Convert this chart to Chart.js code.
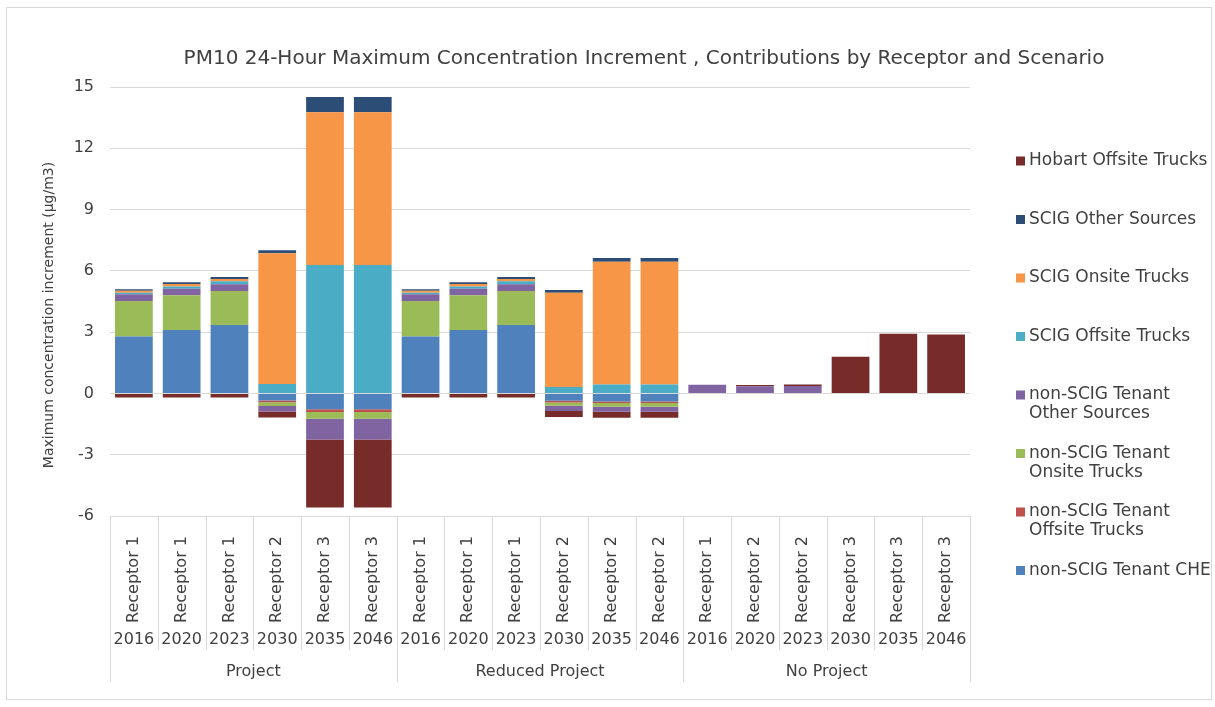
<!DOCTYPE html>
<html>
<head>
<meta charset="utf-8">
<title>PM10 24-Hour Maximum Concentration Increment</title>
<script src="https://cdn.jsdelivr.net/npm/chart.js@4.4.1/dist/chart.umd.min.js"></script>
<style>
    html, body { margin: 0; padding: 0; background: #ffffff; }
    #wrap { position: relative; width: 1215px; height: 707px; }
</style>
</head>
<body>
<div id="wrap"><canvas id="chart"></canvas></div>
<script>
// chart text
var chartTitle = 'PM10 24-Hour Maximum Concentration Increment , Contributions by Receptor and Scenario';
var yTitle = 'Maximum concentration increment (µg/m3)';

// categories (three levels)
var receptors = ['Receptor 1', 'Receptor 1', 'Receptor 1', 'Receptor 2', 'Receptor 3', 'Receptor 3',
                 'Receptor 1', 'Receptor 1', 'Receptor 1', 'Receptor 2', 'Receptor 2', 'Receptor 2',
                 'Receptor 1', 'Receptor 2', 'Receptor 2', 'Receptor 3', 'Receptor 3', 'Receptor 3'];
var years = ['2016', '2020', '2023', '2030', '2035', '2046',
             '2016', '2020', '2023', '2030', '2035', '2046',
             '2016', '2020', '2023', '2030', '2035', '2046'];
var scenarios = ['Project', 'Reduced Project', 'No Project'];
var yearsPerScenario = 6;

// y axis ticks
var yMin = -6, yMax = 15, yStep = 3;

// series values (µg/m3), in stacking order
var tenantChe     = [2.79, 3.10, 3.35, -0.35, -0.78, -0.78, 2.79, 3.10, 3.35, -0.36, -0.39, -0.39, 0, 0, 0, 0, 0, 0];
var tenantOffsite = [0, 0, 0, -0.08, -0.13, -0.13, 0, 0, 0, -0.08, -0.08, -0.08, -0.03, 0, 0, 0, 0, 0];
var tenantOnsite  = [1.73, 1.70, 1.66, -0.19, -0.33, -0.33, 1.73, 1.70, 1.66, -0.16, -0.18, -0.18, 0, 0, 0, 0, -0.03, -0.03];
var tenantOther   = [0.33, 0.33, 0.33, -0.26, -1.01, -1.01, 0.33, 0.33, 0.33, -0.26, -0.25, -0.25, 0.42, 0.35, 0.36, 0, 0, 0];
var scigOffsite   = [0.08, 0.10, 0.15, 0.46, 6.29, 6.29, 0.08, 0.10, 0.15, 0.31, 0.44, 0.44, 0, 0, 0, 0, 0, 0];
var scigOnsite    = [0.10, 0.13, 0.11, 6.40, 7.48, 7.48, 0.10, 0.13, 0.11, 4.62, 6.01, 6.01, 0, 0, 0, 0, 0, 0];
var scigOther     = [0.07, 0.08, 0.10, 0.15, 0.74, 0.74, 0.07, 0.08, 0.10, 0.13, 0.18, 0.18, 0, 0, 0, 0, 0, 0];
var hobartOffsite = [-0.20, -0.20, -0.20, -0.30, -3.33, -3.33, -0.20, -0.20, -0.20, -0.29, -0.29, -0.29, 0, 0.06, 0.08, 1.79, 2.92, 2.89];

var seriesNames = ['non-SCIG Tenant CHE', 'non-SCIG Tenant Offsite Trucks', 'non-SCIG Tenant Onsite Trucks',
                   'non-SCIG Tenant Other Sources', 'SCIG Offsite Trucks', 'SCIG Onsite Trucks',
                   'SCIG Other Sources', 'Hobart Offsite Trucks'];
var seriesData = [tenantChe, tenantOffsite, tenantOnsite, tenantOther, scigOffsite, scigOnsite, scigOther, hobartOffsite];
var seriesColors = ['#4f81bd', '#c0504d', '#9bbb59', '#8064a2', '#4bacc6', '#f79646', '#2c4d75', '#772c2a'];

var FONT = '"DejaVu Sans", Verdana, sans-serif';
var TEXT = '#404040';
var LINE = '#d9d9d9';

function wrapText(ctx, text, maxWidth) {
    var words = text.split(' ');
    var lines = [];
    var cur = '';
    words.forEach(function(w) {
        var test = cur ? cur + ' ' + w : w;
        if (cur && ctx.measureText(test).width > maxWidth) {
            lines.push(cur);
            cur = w;
        } else {
            cur = test;
        }
    });
    if (cur) lines.push(cur);
    return lines;
}

// title, y title, multi-level category labels, legend and frame
var decorations = {
    id: 'decorations',
    afterDraw: function(chart) {
        var ctx = chart.ctx;
        var xs = chart.scales.x;
        var area = chart.chartArea;
        var n = receptors.length;
        var step = (area.right - area.left) / n;

        ctx.save();
        ctx.strokeStyle = LINE;
        ctx.lineWidth = 1;
        ctx.strokeRect(6.5, 7.5, 1205, 692);

        ctx.fillStyle = TEXT;
        ctx.textAlign = 'center';
        ctx.textBaseline = 'middle';
        ctx.font = '20px ' + FONT;
        ctx.fillText(chartTitle, 644, 59);

        ctx.save();
        ctx.translate(49, 315);
        ctx.rotate(-Math.PI / 2);
        ctx.font = '14px ' + FONT;
        ctx.fillText(yTitle, 0, 0);
        ctx.restore();

        // separators below the plot
        ctx.beginPath();
        for (var i = 0; i <= n; i++) {
            var bx = Math.round(xs.getPixelForValue(Math.min(i, n - 1)) + (i < n ? -step / 2 : step / 2)) + 0.5;
            var bottom = (i % yearsPerScenario === 0) ? 682 : 650;
            ctx.moveTo(bx, area.bottom);
            ctx.lineTo(bx, bottom);
        }
        ctx.stroke();

        ctx.font = '16px ' + FONT;
        for (var j = 0; j < n; j++) {
            ctx.fillText(years[j], xs.getPixelForValue(j), 640);
        }
        scenarios.forEach(function(s, g) {
            var a = xs.getPixelForValue(g * yearsPerScenario);
            var b = xs.getPixelForValue(g * yearsPerScenario + yearsPerScenario - 1);
            ctx.fillText(s, (a + b) / 2, 672);
        });

        // legend, last series first
        ctx.textAlign = 'left';
        ctx.font = '17px ' + FONT;
        var ly = 161;
        var ds = chart.data.datasets;
        for (var k = ds.length - 1; k >= 0; k--) {
            var lines = wrapText(ctx, ds[k].label, 188);
            ctx.fillStyle = ds[k].backgroundColor;
            ctx.fillRect(1016, ly - 4.5, 9, 9);
            ctx.fillStyle = TEXT;
            lines.forEach(function(t, m) { ctx.fillText(t, 1029, ly + m * 19); });
            ly += 58.5;
        }
        ctx.restore();
    }
};

var datasets = seriesNames.map(function(name, i) {
    return {
        label: name,
        data: seriesData[i],
        backgroundColor: seriesColors[i],
        borderWidth: 0
    };
});

var ctx = document.getElementById('chart').getContext('2d');
var chart = new Chart(ctx, {
    type: 'bar',
    data: {
        labels: receptors,
        datasets: datasets
    },
    plugins: [decorations],
    options: {
        responsive: true,
        maintainAspectRatio: false,
        animation: false,
        layout: {
            padding: { top: 87, right: 245, bottom: 0, left: 0 }
        },
        plugins: {
            legend: { display: false },
            title: { display: false },
            tooltip: { enabled: false }
        },
        datasets: {
            bar: { categoryPercentage: 1.0, barPercentage: 0.79 }
        },
        scales: {
            x: {
                stacked: true,
                afterFit: function(scale) { scale.height = 191; },
                grid: { display: false },
                border: { display: false },
                ticks: {
                    autoSkip: false,
                    minRotation: 90,
                    maxRotation: 90,
                    padding: 12,
                    color: TEXT,
                    font: { family: FONT, size: 16 }
                }
            },
            y: {
                stacked: true,
                min: yMin,
                max: yMax,
                afterFit: function(scale) { scale.width = 110; },
                grid: { color: LINE, drawTicks: false },
                border: { display: false },
                ticks: {
                    stepSize: yStep,
                    padding: 16,
                    color: TEXT,
                    font: { family: FONT, size: 16 }
                }
            }
        }
    }
});
</script>
</body>
</html>
